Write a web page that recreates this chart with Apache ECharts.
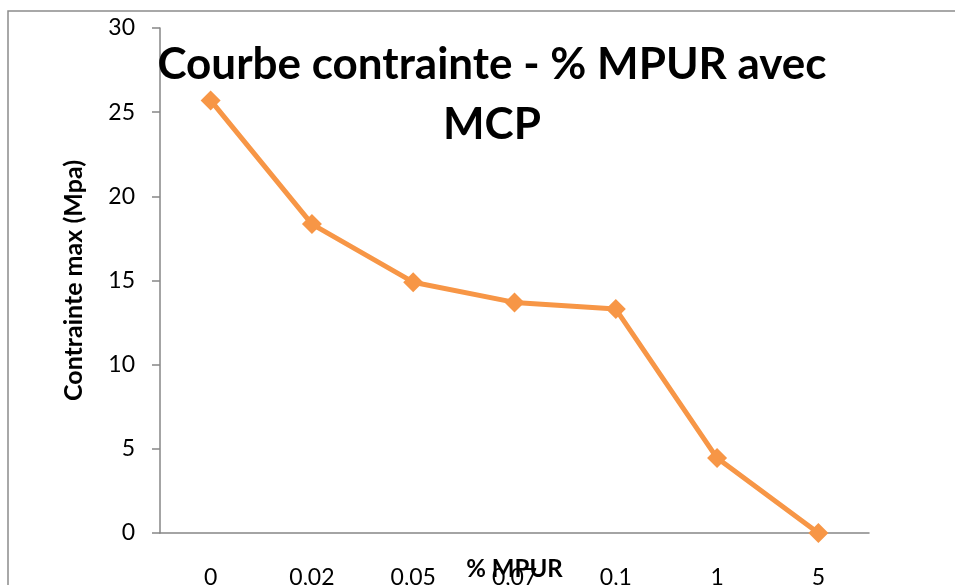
<!DOCTYPE html>
<html><head><meta charset="utf-8">
<script src="https://cdn.jsdelivr.net/npm/echarts@6/dist/echarts.min.js"></script>
<style>html,body{margin:0;padding:0;background:#fff}#c{width:955px;height:585px}</style>
</head><body><div id="c"></div>
<script>
const categories = ['0', '0,02', '0,05', '0,07', '0,1', '1', '5'];
const contrainte = [25.7, 18.35, 14.9, 13.7, 13.3, 4.45, 0];
const yTicks = [0, 5, 10, 15, 20, 25, 30];

const chart = echarts.init(document.getElementById('c'));
const FONT = 'Lato';
chart.setOption({
  animation: false,
  backgroundColor: '#fff',
  graphic: [{
    type: 'rect', shape: {x: 8, y: 11, width: 1000, height: 1000},
    style: {fill: 'none', stroke: '#8c8c8c', lineWidth: 1.5}, silent: true, z: -1
  }],
  title: {
    text: 'Courbe contrainte - % MPUR avec\nMCP',
    left: 487, top: 30, textAlign: 'center',
    textStyle: {fontFamily: FONT, fontWeight: 'bold', fontSize: 44, lineHeight: 60, color: '#000'}
  },
  grid: {left: 160, right: 86, top: 28, bottom: 52, containLabel: false, outerBoundsMode: 'none'},
  xAxis: {
    type: 'category', data: categories, boundaryGap: true,
    name: '% MPUR', nameLocation: 'middle', nameGap: 24, nameMoveOverlap: false,
    nameTextStyle: {fontFamily: FONT, fontWeight: 'bold', fontSize: 24, color: '#000', verticalAlign: 'top'},
    axisLine: {lineStyle: {color: '#868686', width: 1.5}},
    axisTick: {show: false},
    axisLabel: {fontFamily: FONT, fontSize: 23, color: '#000', margin: 33}
  },
  yAxis: {
    type: 'value', min: yTicks[0], max: yTicks[yTicks.length - 1], interval: 5,
    name: 'Contrainte max (Mpa)', nameLocation: 'middle', nameGap: 74, nameMoveOverlap: false,
    nameTextStyle: {fontFamily: FONT, fontWeight: 'bold', fontSize: 25, color: '#000'},
    axisLine: {show: true, lineStyle: {color: '#868686', width: 1.5}},
    axisTick: {show: true, length: 8, lineStyle: {color: '#868686', width: 1.5}},
    splitLine: {show: false},
    axisLabel: {fontFamily: FONT, fontSize: 23, color: '#000', margin: 25}
  },
  series: [{
    type: 'line', data: contrainte,
    symbol: 'diamond', symbolSize: 20,
    lineStyle: {color: '#F79646', width: 5},
    itemStyle: {color: '#F79646'}
  }]
});
</script></body></html>
